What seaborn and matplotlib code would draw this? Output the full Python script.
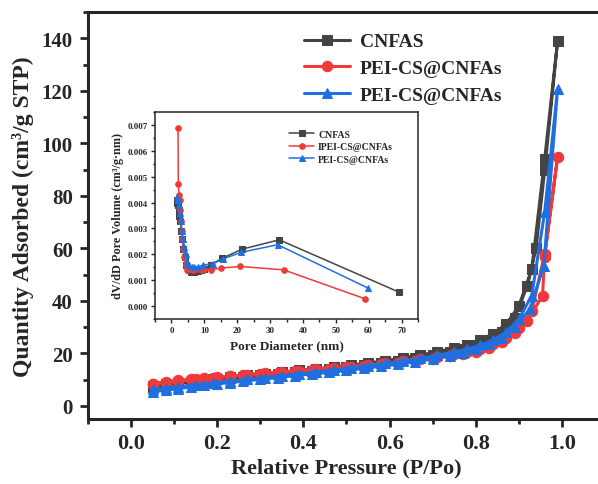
import numpy as np
import pandas as pd
import matplotlib
matplotlib.use("Agg")
import matplotlib.pyplot as plt
from matplotlib.ticker import MultipleLocator, FormatStrFormatter
import seaborn as sns

sns.set_style("ticks")
plt.rcParams['font.family'] = ['Liberation Serif', 'DejaVu Serif']
plt.rcParams['font.weight'] = 'bold'

# isotherme: adsorbimento + desorbimento (un'unica linea, come in Origin)
p_cnfas = [0.05, 0.08, 0.11, 0.14, 0.17, 0.20, 0.23, 0.26, 0.30, 0.34, 0.38, 0.42, 0.46, 0.50,
           0.54, 0.58, 0.62, 0.66, 0.70, 0.74, 0.77, 0.80, 0.83, 0.86, 0.89, 0.92, 0.94, 0.96, 0.99,
           0.96, 0.93, 0.90, 0.87, 0.84, 0.81, 0.78, 0.75, 0.71, 0.67, 0.63, 0.59, 0.55, 0.51,
           0.47, 0.43, 0.39, 0.35, 0.31, 0.27, 0.23, 0.19, 0.15, 0.11, 0.08, 0.05]
q_cnfas = [7.2, 8.0, 8.6, 9.1, 9.6, 10.1, 10.5, 11.0, 11.6, 12.2, 12.8, 13.4, 14.1, 14.8,
           15.5, 16.3, 17.1, 18.1, 19.2, 20.5, 21.7, 23.2, 25.2, 28.0, 33.5, 45.8, 60.0, 89.7, 139.0,
           94.0, 52.0, 38.0, 31.0, 27.5, 25.0, 23.3, 22.0, 20.6, 19.3, 18.2, 17.2, 16.3, 15.5,
           14.8, 14.1, 13.5, 12.9, 12.3, 11.7, 11.1, 10.4, 9.7, 8.9, 8.2, 7.4]

p_pei = [0.05, 0.08, 0.11, 0.14, 0.17, 0.20, 0.23, 0.26, 0.30, 0.34, 0.38, 0.42, 0.46, 0.50,
         0.54, 0.58, 0.62, 0.66, 0.70, 0.74, 0.77, 0.80, 0.83, 0.86, 0.89, 0.92, 0.955, 0.96, 0.99,
         0.96, 0.93, 0.90, 0.87, 0.84, 0.81, 0.78, 0.75, 0.71, 0.67, 0.63, 0.59, 0.55, 0.51,
         0.47, 0.43, 0.39, 0.35, 0.31, 0.27, 0.23, 0.19, 0.15, 0.11, 0.08, 0.05]
q_pei = [8.5, 9.2, 9.7, 10.1, 10.5, 10.9, 11.3, 11.7, 12.2, 12.7, 13.2, 13.7, 14.2, 14.8,
         15.3, 15.9, 16.5, 17.2, 18.0, 18.9, 19.7, 20.7, 22.0, 24.3, 27.8, 32.4, 42.0, 56.7, 94.8,
         58.0, 36.0, 29.5, 25.8, 23.4, 21.8, 20.6, 19.6, 18.6, 17.7, 16.9, 16.2, 15.5, 14.9,
         14.4, 13.9, 13.4, 12.9, 12.4, 11.9, 11.3, 10.7, 10.1, 9.4, 8.9, 8.3]

p_pei2 = [0.05, 0.08, 0.11, 0.14, 0.17, 0.20, 0.23, 0.26, 0.30, 0.34, 0.38, 0.42, 0.46, 0.50,
          0.54, 0.58, 0.62, 0.66, 0.70, 0.74, 0.77, 0.80, 0.83, 0.86, 0.89, 0.926, 0.958, 0.99,
          0.96, 0.93, 0.90, 0.87, 0.84, 0.81, 0.78, 0.75, 0.71, 0.67, 0.63, 0.59, 0.55, 0.51,
          0.47, 0.43, 0.39, 0.35, 0.31, 0.27, 0.23, 0.19, 0.15, 0.11, 0.08, 0.05]
q_pei2 = [5.3, 6.0, 6.6, 7.2, 7.8, 8.4, 8.9, 9.4, 10.1, 10.8, 11.5, 12.2, 12.9, 13.6,
          14.3, 15.1, 15.9, 16.8, 17.9, 19.1, 20.2, 21.6, 23.4, 26.0, 30.0, 36.9, 53.4, 120.8,
          73.8, 42.0, 33.0, 28.0, 25.0, 23.0, 21.6, 20.4, 19.2, 18.1, 17.1, 16.2, 15.3, 14.5,
          13.7, 12.9, 12.2, 11.5, 10.8, 10.1, 9.4, 8.7, 8.0, 7.3, 6.8, 6.3]

# distribuzione dei pori (inserto)
d_cnfas = [1.6, 1.8, 2.0, 2.2, 2.4, 2.7, 3.0, 3.3, 3.6, 4.0, 4.5, 5.2, 6.0, 7.0, 8.0, 9.0, 10.0,
           12.0, 15.5, 21.5, 32.8, 69.2]
v_cnfas = [0.0040, 0.0041, 0.0039, 0.0037, 0.0035, 0.0033, 0.0029, 0.0026, 0.0022, 0.0019,
           0.0016, 0.0014, 0.0013, 0.0013, 0.00135, 0.0014, 0.00145, 0.0016, 0.00185, 0.0022,
           0.00256, 0.00054]

d_ipei = [2.0, 2.1, 2.3, 2.5, 2.7, 2.9, 3.1, 3.3, 3.6, 3.9, 4.3, 4.7, 5.5, 6.5, 7.5, 9.0, 10.0,
          12.0, 15.1, 21.0, 34.1, 58.9]
v_ipei = [0.0069, 0.0047, 0.0043, 0.0041, 0.0037, 0.0033, 0.0029, 0.0026, 0.0022, 0.0019,
          0.0016, 0.0014, 0.00145, 0.0014, 0.00145, 0.0014, 0.00142, 0.0014, 0.00147, 0.00153,
          0.0014, 0.00028]

d_pei = [1.8, 2.0, 2.3, 2.6, 2.9, 3.2, 3.5, 3.9, 4.3, 4.8, 5.4, 6.2, 7.0, 8.0, 9.5, 12.7, 15.6,
         21.3, 32.3, 59.9]
v_pei = [0.0042, 0.0041, 0.0039, 0.0036, 0.0033, 0.0029, 0.0026, 0.0023, 0.0020, 0.0017,
         0.0016, 0.0015, 0.0015, 0.00152, 0.00158, 0.00164, 0.00182, 0.00208, 0.00237, 0.00069]

labels_main = ["CNFAS", "PEI-CS@CNFAs", "PEI-CS@CNFAs"]
labels_inset = ["CNFAS", "IPEI-CS@CNFAs", "PEI-CS@CNFAs"]
colori = ["#444444", "#f03a3a", "#1f6fe0"]
marker = ["s", "o", "^"]

fig = plt.figure(figsize=(5.98, 4.85), dpi=100)
ax = fig.add_axes([88/598, 65/485, 517/598, 407/485])

main_series = [(p_cnfas, q_cnfas), (p_pei, q_pei), (p_pei2, q_pei2)]
for (x, y), lab, c, m in zip(main_series, labels_main, colori, marker):
    df = pd.DataFrame({"P": x, "Q": y})
    sns.lineplot(data=df, x="P", y="Q", sort=False, estimator=None, ax=ax, color=c,
                 marker=m, markersize=7.5, markeredgecolor=c, linewidth=2.2, label=lab)

ax.set_xlim(-0.1, 1.1)
ax.set_ylim(-5, 150)
ax.xaxis.set_major_locator(MultipleLocator(0.2))
ax.xaxis.set_minor_locator(MultipleLocator(0.1))
ax.yaxis.set_major_locator(MultipleLocator(20))
ax.yaxis.set_minor_locator(MultipleLocator(10))
ax.xaxis.set_major_formatter(FormatStrFormatter("%.1f"))
ax.tick_params(which="major", direction="out", length=6, width=2, labelsize=16, pad=4)
ax.tick_params(axis="y", which="major", labelsize=15, pad=5)
ax.tick_params(which="minor", direction="out", length=3.5, width=2)
for s in ["left", "bottom", "top"]:
    ax.spines[s].set_linewidth(2.2)
ax.spines["right"].set_visible(False)
ax.set_xlabel("Relative Pressure (P/Po)", fontsize=16, fontweight="bold")
ax.set_ylabel("Quantity Adsorbed (cm³/g STP)", fontsize=17, fontweight="bold")
ax.yaxis.set_label_coords(-54/517, 0.5)
ax.xaxis.set_label_coords(0.5, -38/407)
ax.legend(loc="upper left", bbox_to_anchor=(294/598, 1 - 24/485), bbox_transform=fig.transFigure,
          frameon=False, handlelength=2.4, handletextpad=0.5, labelspacing=0.48,
          borderpad=0, prop={"weight": "bold", "size": 14})

# Inserto
axi = fig.add_axes([155/598, 165/485, 263/598, 207/485])
inset_series = [(d_cnfas, v_cnfas), (d_ipei, v_ipei), (d_pei, v_pei)]
for (x, y), lab, c, m in zip(inset_series, labels_inset, colori, marker):
    df = pd.DataFrame({"D": x, "V": y})
    sns.lineplot(data=df, x="D", y="V", sort=False, estimator=None, ax=axi, color=c,
                 marker=m, markersize=4, markeredgecolor=c, linewidth=1.1, label=lab)

axi.set_xlim(-5, 75)
axi.set_ylim(-0.0005, 0.0075)
axi.xaxis.set_major_locator(MultipleLocator(10))
axi.xaxis.set_minor_locator(MultipleLocator(5))
axi.yaxis.set_major_locator(MultipleLocator(0.001))
axi.yaxis.set_minor_locator(MultipleLocator(0.0005))
axi.yaxis.set_major_formatter(FormatStrFormatter("%.3f"))
axi.tick_params(which="major", direction="out", length=3, width=1, labelsize=6.5, pad=2)
axi.tick_params(which="minor", direction="out", length=1.8, width=1)
for s in axi.spines.values():
    s.set_linewidth(1.1)
axi.set_xlabel("Pore Diameter (nm)", fontsize=9.5, fontweight="bold")
axi.set_ylabel("dV/dD Pore Volume (cm³/g·nm)", fontsize=8.8, fontweight="bold")
axi.yaxis.set_label_coords(-31/263, 0.5)
axi.xaxis.set_label_coords(0.5, -20/207)
axi.legend(loc="upper left", bbox_to_anchor=(284/598, 1 - 126/485), bbox_transform=fig.transFigure,
           frameon=False, handlelength=2.6, handletextpad=0.4, labelspacing=0.35, borderpad=0,
           prop={"weight": "bold", "size": 7})

fig.savefig("out.png", dpi=100)
